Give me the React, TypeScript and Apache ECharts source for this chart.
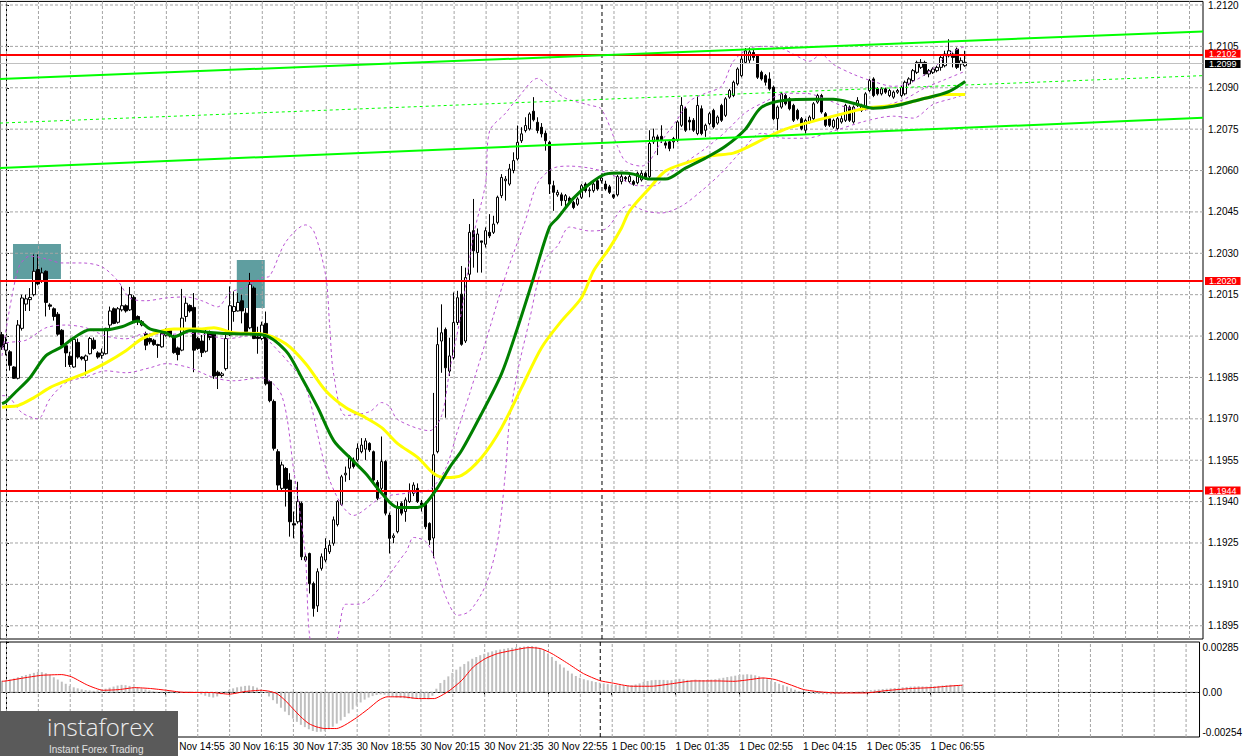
import React, { useEffect, useRef } from "react";
import * as echarts from "echarts";

// ---------- DATA ----------
// OHLC candles [open, close, low, high], 5-minute bars from 30 Nov 11:30
const candles: number[][] = [
  [1.20005, 1.19960, 1.19950, 1.20015],
  [1.19949, 1.19973, 1.19930, 1.19997], [1.19943, 1.19894, 1.19875, 1.19949], [1.19888, 1.19847, 1.19845, 1.19891],
  [1.19847, 1.20040, 1.19843, 1.20058], [1.20028, 1.20138, 1.20020, 1.20150], [1.20116, 1.20135, 1.20091, 1.20150],
  [1.20132, 1.20140, 1.20091, 1.20174], [1.20150, 1.20235, 1.20144, 1.20296], [1.20241, 1.20189, 1.20184, 1.20296],
  [1.20199, 1.20229, 1.20193, 1.20248], [1.20235, 1.20122, 1.20071, 1.20238], [1.20113, 1.20108, 1.20095, 1.20119],
  [1.20099, 1.20071, 1.20056, 1.20104], [1.20079, 1.20007, 1.20001, 1.20087], [1.20021, 1.19967, 1.19961, 1.20025],
  [1.19965, 1.19939, 1.19888, 1.19973], [1.19927, 1.19897, 1.19888, 1.19943], [1.19888, 1.19988, 1.19885, 1.19991],
  [1.19977, 1.19924, 1.19918, 1.19991], [1.19924, 1.19918, 1.19912, 1.19927], [1.19912, 1.19928, 1.19857, 1.19933],
  [1.19936, 1.19991, 1.19933, 1.19997], [1.19985, 1.19955, 1.19950, 1.19995], [1.19939, 1.19924, 1.19918, 1.19945],
  [1.19930, 1.19939, 1.19918, 1.19955], [1.19936, 1.20028, 1.19933, 1.20030], [1.20040, 1.20091, 1.20028, 1.20107],
  [1.20099, 1.20046, 1.20043, 1.20104], [1.20050, 1.20099, 1.20045, 1.20105], [1.20095, 1.20110, 1.20089, 1.20180],
  [1.20110, 1.20091, 1.20085, 1.20115], [1.20095, 1.20150, 1.20091, 1.20178], [1.20140, 1.20056, 1.20052, 1.20148],
  [1.20071, 1.20052, 1.20040, 1.20075], [1.20040, 1.20052, 1.20035, 1.20058], [1.20008, 1.19967, 1.19949, 1.20016],
  [1.19991, 1.19979, 1.19970, 1.19995], [1.19985, 1.19969, 1.19965, 1.19990], [1.19969, 1.19966, 1.19921, 1.19972],
  [1.19961, 1.20010, 1.19958, 1.20016], [1.20003, 1.20022, 1.19998, 1.20028], [1.20020, 1.20000, 1.19995, 1.20025],
  [1.20000, 1.19940, 1.19936, 1.20005], [1.19957, 1.19933, 1.19912, 1.19962], [1.19949, 1.20065, 1.19945, 1.20171],
  [1.20071, 1.20119, 1.20052, 1.20140], [1.20111, 1.20091, 1.20085, 1.20115], [1.20104, 1.19949, 1.19869, 1.20156],
  [1.19991, 1.19955, 1.19950, 1.19997], [1.19982, 1.19940, 1.19924, 1.20004], [1.19945, 1.20016, 1.19940, 1.20022],
  [1.20010, 1.19995, 1.19985, 1.20020], [1.20007, 1.19855, 1.19845, 1.20010], [1.19869, 1.19857, 1.19808, 1.19875],
  [1.19857, 1.19863, 1.19850, 1.19870], [1.19882, 1.19991, 1.19875, 1.20010], [1.20004, 1.20110, 1.20000, 1.20180],
  [1.20089, 1.20107, 1.20052, 1.20162], [1.20091, 1.20122, 1.20089, 1.20156], [1.20128, 1.20091, 1.20046, 1.20150],
  [1.20083, 1.20016, 1.20010, 1.20101], [1.20030, 1.20187, 1.20025, 1.20229], [1.20174, 1.19991, 1.19989, 1.20180],
  [1.19997, 1.19991, 1.19936, 1.20034], [1.19991, 1.20040, 1.19985, 1.20052], [1.20046, 1.19827, 1.19821, 1.20089],
  [1.19835, 1.19766, 1.19760, 1.19840], [1.19763, 1.19593, 1.19585, 1.19770], [1.19581, 1.19460, 1.19442, 1.19590],
  [1.19448, 1.19533, 1.19442, 1.19545], [1.19520, 1.19448, 1.19382, 1.19525], [1.19478, 1.19327, 1.19273, 1.19503],
  [1.19320, 1.19315, 1.19267, 1.19364], [1.19327, 1.19400, 1.19320, 1.19472], [1.19394, 1.19200, 1.19188, 1.19400],
  [1.19188, 1.19200, 1.19182, 1.19210], [1.19212, 1.19103, 1.19067, 1.19215], [1.19103, 1.19013, 1.18983, 1.19110],
  [1.19022, 1.19146, 1.19000, 1.19158], [1.19158, 1.19200, 1.19150, 1.19212], [1.19188, 1.19230, 1.19180, 1.19267],
  [1.19218, 1.19242, 1.19210, 1.19260], [1.19249, 1.19334, 1.19240, 1.19346], [1.19317, 1.19400, 1.19310, 1.19405],
  [1.19390, 1.19490, 1.19385, 1.19497], [1.19497, 1.19503, 1.19472, 1.19527], [1.19521, 1.19563, 1.19478, 1.19569],
  [1.19551, 1.19527, 1.19520, 1.19560], [1.19551, 1.19593, 1.19545, 1.19611], [1.19581, 1.19605, 1.19575, 1.19630],
  [1.19590, 1.19620, 1.19551, 1.19630], [1.19611, 1.19587, 1.19580, 1.19615], [1.19581, 1.19478, 1.19470, 1.19585],
  [1.19470, 1.19412, 1.19405, 1.19478], [1.19448, 1.19545, 1.19440, 1.19636], [1.19545, 1.19358, 1.19350, 1.19550],
  [1.19351, 1.19267, 1.19212, 1.19360], [1.19270, 1.19276, 1.19249, 1.19285], [1.19291, 1.19376, 1.19285, 1.19400],
  [1.19394, 1.19358, 1.19350, 1.19400], [1.19364, 1.19406, 1.19327, 1.19415], [1.19400, 1.19436, 1.19395, 1.19466],
  [1.19430, 1.19460, 1.19420, 1.19470], [1.19448, 1.19400, 1.19395, 1.19466], [1.19395, 1.19388, 1.19364, 1.19406],
  [1.19394, 1.19309, 1.19300, 1.19400], [1.19321, 1.19261, 1.19243, 1.19325], [1.19268, 1.19570, 1.19195, 1.19794],
  [1.19581, 1.19969, 1.19575, 1.20031], [1.19982, 1.20012, 1.19867, 1.20115], [1.20024, 1.19885, 1.19704, 1.20031],
  [1.19873, 1.19928, 1.19855, 1.19994], [1.19922, 1.20049, 1.19915, 1.20158], [1.20049, 1.20139, 1.20040, 1.20164],
  [1.20152, 1.19970, 1.19965, 1.20254], [1.19982, 1.20212, 1.19975, 1.20248], [1.20224, 1.20376, 1.20200, 1.20406],
  [1.20382, 1.20309, 1.20248, 1.20497], [1.20303, 1.20370, 1.20230, 1.20390], [1.20345, 1.20340, 1.20230, 1.20345],
  [1.20333, 1.20382, 1.20321, 1.20394], [1.20376, 1.20363, 1.20355, 1.20442], [1.20376, 1.20406, 1.20370, 1.20436],
  [1.20412, 1.20503, 1.20405, 1.20509], [1.20509, 1.20575, 1.20500, 1.20587], [1.20563, 1.20569, 1.20491, 1.20580],
  [1.20551, 1.20606, 1.20545, 1.20624], [1.20600, 1.20636, 1.20590, 1.20666], [1.20642, 1.20702, 1.20636, 1.20763],
  [1.20708, 1.20733, 1.20700, 1.20757], [1.20745, 1.20763, 1.20738, 1.20793], [1.20751, 1.20805, 1.20745, 1.20811],
  [1.20815, 1.20784, 1.20778, 1.20866], [1.20775, 1.20745, 1.20735, 1.20793], [1.20757, 1.20733, 1.20720, 1.20772],
  [1.20735, 1.20708, 1.20672, 1.20745], [1.20702, 1.20551, 1.20515, 1.20708], [1.20545, 1.20521, 1.20454, 1.20563],
  [1.20512, 1.20521, 1.20505, 1.20530], [1.20512, 1.20491, 1.20472, 1.20520], [1.20491, 1.20509, 1.20466, 1.20515],
  [1.20500, 1.20488, 1.20478, 1.20506], [1.20484, 1.20466, 1.20460, 1.20490], [1.20478, 1.20497, 1.20472, 1.20503],
  [1.20503, 1.20545, 1.20497, 1.20551], [1.20551, 1.20527, 1.20520, 1.20557], [1.20527, 1.20530, 1.20503, 1.20539],
  [1.20527, 1.20551, 1.20520, 1.20563], [1.20563, 1.20533, 1.20527, 1.20575], [1.20563, 1.20573, 1.20555, 1.20585],
  [1.20551, 1.20533, 1.20527, 1.20563], [1.20541, 1.20521, 1.20515, 1.20548], [1.20512, 1.20503, 1.20497, 1.20515],
  [1.20512, 1.20578, 1.20506, 1.20584], [1.20560, 1.20578, 1.20550, 1.20590], [1.20575, 1.20570, 1.20560, 1.20580],
  [1.20560, 1.20578, 1.20555, 1.20585], [1.20560, 1.20550, 1.20545, 1.20566], [1.20556, 1.20590, 1.20550, 1.20596],
  [1.20566, 1.20590, 1.20560, 1.20600], [1.20590, 1.20572, 1.20566, 1.20596], [1.20578, 1.20698, 1.20572, 1.20746],
  [1.20704, 1.20722, 1.20696, 1.20752], [1.20722, 1.20710, 1.20656, 1.20730], [1.20724, 1.20710, 1.20700, 1.20764],
  [1.20700, 1.20692, 1.20680, 1.20710], [1.20704, 1.20680, 1.20670, 1.20710], [1.20704, 1.20716, 1.20680, 1.20722],
  [1.20710, 1.20776, 1.20704, 1.20782], [1.20764, 1.20836, 1.20758, 1.20866], [1.20824, 1.20746, 1.20740, 1.20830],
  [1.20782, 1.20776, 1.20746, 1.20795], [1.20782, 1.20746, 1.20740, 1.20790], [1.20734, 1.20836, 1.20728, 1.20872],
  [1.20824, 1.20734, 1.20728, 1.20836], [1.20746, 1.20764, 1.20722, 1.20770], [1.20770, 1.20806, 1.20764, 1.20812],
  [1.20818, 1.20758, 1.20752, 1.20824], [1.20772, 1.20794, 1.20766, 1.20800], [1.20836, 1.20782, 1.20776, 1.20842],
  [1.20800, 1.20860, 1.20794, 1.20866], [1.20866, 1.20890, 1.20860, 1.20896], [1.20872, 1.20920, 1.20866, 1.20926],
  [1.20914, 1.20968, 1.20908, 1.20974], [1.20944, 1.21004, 1.20938, 1.21022], [1.20992, 1.21034, 1.20986, 1.21044],
  [1.21000, 1.21030, 1.20990, 1.21046], [1.21028, 1.21010, 1.20998, 1.21040], [1.21016, 1.20938, 1.20932, 1.21022],
  [1.20956, 1.20932, 1.20926, 1.20962], [1.20944, 1.20920, 1.20908, 1.20950], [1.20932, 1.20896, 1.20890, 1.20956],
  [1.20902, 1.20788, 1.20782, 1.20908], [1.20788, 1.20830, 1.20746, 1.20836], [1.20830, 1.20878, 1.20824, 1.20884],
  [1.20872, 1.20842, 1.20836, 1.20878], [1.20860, 1.20824, 1.20818, 1.20866], [1.20836, 1.20782, 1.20776, 1.20842],
  [1.20818, 1.20788, 1.20782, 1.20824], [1.20788, 1.20752, 1.20746, 1.20794], [1.20746, 1.20782, 1.20734, 1.20788],
  [1.20776, 1.20794, 1.20770, 1.20800], [1.20788, 1.20842, 1.20782, 1.20848], [1.20848, 1.20872, 1.20842, 1.20878],
  [1.20872, 1.20812, 1.20806, 1.20878], [1.20806, 1.20764, 1.20758, 1.20812], [1.20788, 1.20764, 1.20758, 1.20794],
  [1.20758, 1.20782, 1.20752, 1.20788], [1.20752, 1.20788, 1.20746, 1.20794], [1.20776, 1.20788, 1.20770, 1.20800],
  [1.20782, 1.20836, 1.20776, 1.20842], [1.20830, 1.20782, 1.20776, 1.20836], [1.20776, 1.20830, 1.20770, 1.20836],
  [1.20836, 1.20854, 1.20830, 1.20866], [1.20818, 1.20836, 1.20812, 1.20842], [1.20824, 1.20878, 1.20818, 1.20884],
  [1.20890, 1.20926, 1.20884, 1.20932], [1.20932, 1.20872, 1.20866, 1.20938], [1.20896, 1.20878, 1.20872, 1.20902],
  [1.20878, 1.20896, 1.20872, 1.20902], [1.20896, 1.20884, 1.20878, 1.20900], [1.20872, 1.20890, 1.20866, 1.20896],
  [1.20866, 1.20884, 1.20860, 1.20890], [1.20884, 1.20890, 1.20878, 1.20896], [1.20872, 1.20902, 1.20866, 1.20908],
  [1.20878, 1.20920, 1.20872, 1.20926], [1.20914, 1.20932, 1.20908, 1.20938], [1.20926, 1.20962, 1.20920, 1.20968],
  [1.20956, 1.20992, 1.20950, 1.20998], [1.20974, 1.20992, 1.20968, 1.21004], [1.20992, 1.20950, 1.20944, 1.20998],
  [1.20950, 1.20962, 1.20938, 1.20968], [1.20956, 1.20968, 1.20950, 1.20974], [1.20962, 1.20974, 1.20956, 1.20980],
  [1.20974, 1.21010, 1.20962, 1.21016], [1.20980, 1.21022, 1.20974, 1.21034], [1.21016, 1.21034, 1.21010, 1.21076],
  [1.21022, 1.21010, 1.20974, 1.21028], [1.21040, 1.20974, 1.20968, 1.21046], [1.20986, 1.20998, 1.20962, 1.21010],
  [1.20980, 1.20992, 1.20976, 1.21034],
];

// MACD main (histogram), one value per candle
const macdHist: number[] = [
  0.00065,
  0.00068, 0.00072, 0.00078, 0.00085, 0.00092, 0.00098, 0.00104, 0.00110, 0.00115, 0.00114,
  0.00108, 0.00098, 0.00085, 0.00072, 0.00060, 0.00048, 0.00036, 0.00028, 0.00022, 0.00016,
  0.00012, 0.00010, 0.00008, 0.00010, 0.00014, 0.00020, 0.00026, 0.00032, 0.00038, 0.00042,
  0.00040, 0.00036, 0.00030, 0.00026, 0.00022, 0.00016, 0.00010, 0.00006, 0.00002, 0.00000,
  0.00002, 0.00004, -0.00002, -0.00006, -0.00004, 0.00002, 0.00004, 0.00002, -0.00004, -0.00012,
  -0.00020, -0.00026, -0.00030, -0.00024, -0.00012, 0.00004, 0.00014, 0.00022, 0.00028, 0.00032,
  0.00036, 0.00038, 0.00034, 0.00026, 0.00016, -0.00004, -0.00024, -0.00045, -0.00065, -0.00088,
  -0.00110, -0.00130, -0.00150, -0.00168, -0.00185, -0.00198, -0.00210, -0.00220, -0.00225, -0.00224,
  -0.00220, -0.00210, -0.00196, -0.00178, -0.00160, -0.00140, -0.00120, -0.00098, -0.00076, -0.00058,
  -0.00042, -0.00030, -0.00022, -0.00016, -0.00012, -0.00014, -0.00020, -0.00026, -0.00030, -0.00032,
  -0.00034, -0.00036, -0.00038, -0.00036, -0.00034, -0.00036, -0.00040, -0.00020, 0.00020, 0.00052,
  0.00070, 0.00090, 0.00110, 0.00128, 0.00145, 0.00160, 0.00175, 0.00190, 0.00200, 0.00210,
  0.00218, 0.00226, 0.00232, 0.00238, 0.00242, 0.00246, 0.00250, 0.00252, 0.00255, 0.00257,
  0.00259, 0.00261, 0.00262, 0.00258, 0.00250, 0.00238, 0.00220, 0.00200, 0.00178, 0.00158,
  0.00140, 0.00122, 0.00106, 0.00092, 0.00082, 0.00074, 0.00068, 0.00063, 0.00058, 0.00054,
  0.00050, 0.00046, 0.00043, 0.00041, 0.00040, 0.00038, 0.00038, 0.00040, 0.00044, 0.00050,
  0.00058, 0.00064, 0.00068, 0.00070, 0.00070, 0.00070, 0.00068, 0.00068, 0.00072, 0.00076,
  0.00074, 0.00070, 0.00068, 0.00072, 0.00070, 0.00068, 0.00070, 0.00072, 0.00074, 0.00078,
  0.00082, 0.00086, 0.00090, 0.00094, 0.00098, 0.00100, 0.00102, 0.00100, 0.00096, 0.00090,
  0.00082, 0.00074, 0.00066, 0.00058, 0.00048, 0.00040, 0.00032, 0.00022, 0.00014, 0.00006,
  0.00000, -0.00004, -0.00008, -0.00010, -0.00010, -0.00012, -0.00012, -0.00012, -0.00010, -0.00010,
  -0.00008, -0.00006, -0.00004, 0.00000, 0.00004, 0.00008, 0.00010, 0.00012, 0.00014, 0.00016,
  0.00018, 0.00020, 0.00022, 0.00024, 0.00026, 0.00028, 0.00030, 0.00032, 0.00033, 0.00034,
  0.00033, 0.00032, 0.00032, 0.00034, 0.00036, 0.00038, 0.00040, 0.00042, 0.00041, 0.00040,
  0.00040,
];

// MACD signal line [bar position, value]
const macdSignal: number[][] = [
  [-1, 0.00062], [0, 0.00064], [5, 0.00083], [9, 0.00096], [14, 0.00100], [16.5, 0.00087], [20.5, 0.00040],
  [24.4, 0.00011], [28.4, 0.00015], [32.3, 0.00026], [36.3, 0.00021], [40.3, 0.00011], [44.2, 0.0],
  [52, -0.00002], [56, -0.00011], [60, 0.00004], [64, 0.00011], [66, 0.00006], [68, -0.00008],
  [70, -0.00045], [72, -0.00093], [74, -0.0014], [76, -0.00178], [78, -0.00197], [80, -0.00206],
  [83, -0.00206], [85, -0.00187], [88, -0.00144], [91, -0.00093], [93.6, -0.00045], [95.6, -0.00026],
  [99.5, -0.00026], [103.5, -0.00036], [107.5, -0.00036], [109.4, -0.00017], [111.4, 0.00011],
  [114.4, 0.00068], [117.3, 0.00144], [120.3, 0.00191], [123.3, 0.00219], [127.2, 0.00238],
  [131.2, 0.00253], [134.1, 0.00248], [137, 0.00219], [141, 0.00163], [144.9, 0.00106], [149, 0.00066],
  [152, 0.00053], [157, 0.00034], [162, 0.00034], [167.3, 0.00049], [172.4, 0.00064], [178.6, 0.00064],
  [182.7, 0.00062], [186.8, 0.00072], [189.9, 0.00081], [193, 0.00072], [197.1, 0.0004], [200.2, 0.00015],
  [204.3, 0.00002], [208.4, -0.00004], [215.6, -0.00004], [220.8, 0.00009], [227, 0.00021],
  [232.1, 0.00026], [236.2, 0.00034], [240, 0.0004],
];

// Moving averages [bar position, price]
const maGreen: number[][] = [
  [-1, 1.19755], [0, 1.19762], [2, 1.19791], [6, 1.19849], [10, 1.19929], [14, 1.19961], [17, 1.19994],
  [21, 1.20023], [25, 1.20023], [29, 1.20034], [33, 1.20055], [36, 1.20026], [40, 1.20012], [42, 1.19997],
  [46, 1.20019], [52, 1.20012], [57, 1.20008], [64, 1.20005], [70, 1.19947], [74, 1.19849], [78, 1.19741],
  [82, 1.19621], [86, 1.1956], [90, 1.19502], [94, 1.1943], [98, 1.19379], [103, 1.19379], [105, 1.19393],
  [108, 1.19451], [111, 1.19524], [114, 1.19585], [119, 1.19719], [124, 1.19864], [128, 1.2003],
  [132, 1.20211], [136, 1.20395], [138, 1.20428], [142, 1.205], [146, 1.20551], [150, 1.20587],
  [154, 1.20591], [157, 1.20587], [161, 1.20569], [165, 1.20569], [170, 1.20609], [175, 1.20645],
  [180, 1.20688], [185, 1.2075], [189, 1.20829], [195, 1.20855], [202, 1.20858], [207, 1.20858],
  [212, 1.20844], [217, 1.20826], [222, 1.20833], [227, 1.20851], [232, 1.20869], [236, 1.20887], [240, 1.20923],
];
const maYellow: number[][] = [
  [-1, 1.19742], [0, 1.19744], [3, 1.19748], [7, 1.19777], [11, 1.19813], [15, 1.19838], [20, 1.19867],
  [25, 1.19903], [30, 1.19947], [34, 1.1999], [39, 1.20019], [42, 1.20026], [49, 1.20026], [52, 1.2003],
  [57, 1.20012], [64, 1.20008], [70, 1.19972], [75, 1.199], [80, 1.19802], [85, 1.19741], [90, 1.19704],
  [94, 1.19668], [98, 1.1961], [103, 1.1956], [107, 1.19502], [110, 1.19487], [114, 1.19495],
  [119, 1.1956], [124, 1.19668], [129, 1.19813], [134, 1.19958], [139, 1.20055], [144, 1.20139],
  [147, 1.20236], [151, 1.20319], [154, 1.20392], [156, 1.20453], [161, 1.20536], [165, 1.20598],
  [170, 1.20627], [176, 1.20652], [182, 1.20663], [185, 1.20681], [190, 1.20717], [195, 1.2075],
  [200, 1.20771], [205, 1.2079], [210, 1.20808], [215, 1.20826], [220, 1.20833], [225, 1.20844],
  [230, 1.20862], [235, 1.20876], [240, 1.20876],
];

// Bollinger bands [bar position, price]
const bbUpper: number[][] = [
  [-1, 1.19928], [3, 1.20243], [6, 1.2029], [10, 1.2028], [14, 1.20265], [19, 1.20265], [24, 1.20251],
  [28, 1.202], [31, 1.20138], [35, 1.20128], [40, 1.20138], [45, 1.20142], [49, 1.20128], [53, 1.20106],
  [56, 1.20157], [60, 1.20178], [64, 1.20211], [66, 1.20218], [70, 1.20341], [75, 1.20403], [77, 1.20381],
  [80, 1.20218], [81, 1.20034], [82, 1.1986], [85, 1.19712], [91, 1.19726], [94, 1.19759], [96, 1.19744],
  [98, 1.19697], [106, 1.19657], [109, 1.19712], [111, 1.19874], [114, 1.20091], [117, 1.20366],
  [120, 1.20554], [121, 1.20743], [125, 1.20808], [128, 1.20862], [133, 1.20934], [136, 1.20902],
  [140, 1.20862], [146, 1.20837], [149, 1.20822], [153, 1.20688], [155, 1.20634], [159, 1.20616],
  [161, 1.20634], [164, 1.20706], [168, 1.20786], [171, 1.20851], [175, 1.2088], [179, 1.20905],
  [182, 1.20996], [186, 1.21043], [190, 1.2105], [194, 1.21043], [198, 1.21014], [201, 1.20996],
  [204, 1.21021], [207, 1.20985], [212, 1.20949], [217, 1.20923], [222, 1.20905], [227, 1.20923],
  [232, 1.2097], [236, 1.21025], [240, 1.2105],
];
const bbMiddle: number[][] = [
  [-1, 1.1996], [0, 1.19975], [5, 1.19985], [10, 1.2003], [15, 1.2004], [20, 1.2003], [25, 1.2],
  [30, 1.1999], [35, 1.2001], [40, 1.20005], [45, 1.2001], [50, 1.20005], [55, 1.1999], [60, 1.2],
  [64, 1.2001], [66, 1.19979], [71, 1.199], [75, 1.19817], [81, 1.19477], [87, 1.1935], [94, 1.19415],
  [100, 1.1943], [106, 1.19444], [110, 1.1952], [113, 1.19657], [116, 1.19791], [120, 1.19979],
  [125, 1.20218], [130, 1.20421], [133, 1.20554], [137, 1.20609], [141, 1.20616], [146, 1.20609],
  [150, 1.20594], [154, 1.20569], [158, 1.20545], [162, 1.20545], [166, 1.2059], [170, 1.2063],
  [175, 1.2068], [180, 1.2074], [185, 1.2081], [190, 1.2085], [195, 1.2088], [200, 1.2088],
  [205, 1.2086], [210, 1.2083], [215, 1.2082], [220, 1.20835], [225, 1.2086], [230, 1.209],
  [235, 1.2093], [240, 1.2096],
];
const bbLower: number[][] = [
  [-1, 1.19784], [0, 1.19784], [4, 1.19722], [8, 1.197], [11, 1.19773], [15, 1.19831], [20, 1.19852],
  [25, 1.19874], [30, 1.19867], [36, 1.19885], [40, 1.199], [46, 1.19885], [52, 1.19849], [57, 1.19838],
  [64, 1.19849], [69, 1.19784], [72, 1.19513], [74, 1.19314], [75, 1.19187], [76, 1.18909],
  [78, 1.18826], [81, 1.18826], [83, 1.18909], [85, 1.19028], [88, 1.19028], [100, 1.19216],
  [102, 1.1927], [105, 1.19256], [107, 1.19202], [110, 1.19057], [113, 1.18988], [116, 1.19003],
  [120, 1.19097], [123, 1.19256], [125, 1.19513], [126, 1.19697], [128, 1.19871], [131, 1.20059],
  [133, 1.20193], [135, 1.2028], [138, 1.20327], [141, 1.20395], [146, 1.20381], [150, 1.20388],
  [154, 1.2046], [156, 1.20475], [160, 1.20453], [164, 1.20446], [169, 1.20471], [174, 1.20526],
  [179, 1.20591], [184, 1.2067], [189, 1.20735], [195, 1.20717], [200, 1.20717], [207, 1.20743],
  [215, 1.20779], [222, 1.20797], [227, 1.2079], [232, 1.2084], [237, 1.20862], [240, 1.20876],
];

// Trend channel lines [bar position, price]
const trendTop: number[][] = [[-1.5, 1.20932], [299.5, 1.21104]];
const trendMidDashed: number[][] = [[-1.5, 1.20772], [299.5, 1.20944]];
const trendBottom: number[][] = [[-1.5, 1.20609], [299.5, 1.20791]];

// Marked zones (teal boxes) [[bar, price], [bar, price]]
const zones: number[][][] = [
  [[1.75, 1.20334], [13.75, 1.20207]],
  [[57.75, 1.20276], [64.75, 1.20102]],
];

// Levels
const redLevels: number[] = [1.2102, 1.202, 1.1944];
const bidLevel = 1.2099;
const priceTicks: number[] = [
  1.212, 1.2105, 1.209, 1.2075, 1.206, 1.2045, 1.203, 1.2015, 1.2,
  1.1985, 1.197, 1.1955, 1.194, 1.1925, 1.191, 1.1895,
];
const priceMin = 1.18902;
const priceMax = 1.21213;
const macdMin = -0.00254;
const macdMax = 0.00285;
const macdTicks: number[] = [-0.00254, 0, 0.00285];
// visible time labels (the earlier ones sit under the logo)
const tickLabels: string[] = [
  "30 Nov 14:55", "30 Nov 16:15", "30 Nov 17:35", "30 Nov 18:55",
  "30 Nov 20:15", "30 Nov 21:35", "30 Nov 22:55", "1 Dec 00:15", "1 Dec 01:35", "1 Dec 02:55",
  "1 Dec 04:15", "1 Dec 05:35", "1 Dec 06:55",
];
const daySeparatorBar = 149;
const totalSlots = 301;
const xFirst = -1.5;
const xLast = 299.5;

// time categories (5-minute bars starting 30 Nov 11:30)
const categories: string[] = [];
for (let k = 0; k < totalSlots; k++) {
  const t = 11 * 60 + 30 + 5 * k;
  const day = t >= 1440 ? "1 Dec" : "30 Nov";
  const m = t % 1440;
  categories.push(
    `${day} ${String(Math.floor(m / 60)).padStart(2, "0")}:${String(m % 60).padStart(2, "0")}`
  );
}
// vertical grid every 8 bars (nudged half a pixel so the 1px dashes stay crisp)
const vGrid: number[] = [];
for (let v = 0; v <= 296; v += 8) vGrid.push(v + 0.125);

const FONT = '"Liberation Sans", Arial, sans-serif';
const GRID_COLOR = "#a4a4a4";
const GRID_DASH = [3, 2];

function buildOption(): any {
  const isTick = (_i: number, value: string) => tickLabels.includes(value);
  const dashed = (data: number[][], z: number) => ({
    type: "line", xAxisIndex: 1, yAxisIndex: 0, data, symbol: "none", smooth: 0.3, silent: true, z,
    lineStyle: { color: "#BA55D3", width: 1, type: [3, 3] },
  });
  const solid = (data: number[][], color: string, width: number, z: number, smooth: number, type: any = "solid") => ({
    type: "line", xAxisIndex: 1, yAxisIndex: 0, data, symbol: "none", smooth, silent: true, z,
    lineStyle: { color, width, type },
  });
  // one 2-point line series per grid line
  const hLine = (v: number, xAxisIndex: number, yAxisIndex: number, color: string, type: any) => ({
    type: "line", xAxisIndex, yAxisIndex, data: [[xFirst, v], [xLast, v]], symbol: "none",
    silent: true, z: 1, lineStyle: { color, width: 1, type },
  });
  const vLine = (x: number, lo: number, hi: number, xAxisIndex: number, yAxisIndex: number, color: string, type: any) => ({
    type: "line", xAxisIndex, yAxisIndex, data: [[x, lo], [x, hi]], symbol: "none",
    silent: true, z: 1, lineStyle: { color, width: 1, type },
  });
  const levelLabel = (bg: string, dy: number) => ({
    show: true, position: "end", distance: 2, backgroundColor: bg, color: "#ffffff",
    fontSize: 9, fontFamily: FONT, padding: [0, 4, 0, 4], lineHeight: 8, offset: [0, dy],
  });

  return {
    animation: false,
    backgroundColor: "#ffffff",
    textStyle: { fontFamily: FONT },
    grid: [
      { left: -1, top: 0, width: 1204, height: 639, show: true, borderColor: "#000", borderWidth: 1, backgroundColor: "transparent" },
      { left: -1, top: 642, width: 1204, height: 95, show: true, borderColor: "#000", borderWidth: 1, backgroundColor: "transparent" },
    ],
    xAxis: [
      { type: "category", gridIndex: 0, data: categories, axisLine: { show: false }, axisTick: { show: false }, axisLabel: { show: false }, splitLine: { show: false } },
      { type: "value", gridIndex: 0, min: xFirst, max: xLast, show: false },
      {
        type: "category", gridIndex: 1, data: categories,
        axisLine: { show: true, lineStyle: { color: "#000" } },
        axisTick: { show: true, alignWithLabel: true, interval: isTick, length: 3, lineStyle: { color: "#000" } },
        axisLabel: { interval: isTick, align: "left", margin: 4, fontSize: 10, color: "#000", fontFamily: FONT },
        splitLine: { show: false },
      },
      { type: "value", gridIndex: 1, min: xFirst, max: xLast, show: false },
    ],
    yAxis: [
      {
        type: "value", gridIndex: 0, position: "right", min: priceMin, max: priceMax,
        axisLine: { show: true, lineStyle: { color: "#000" } },
        axisTick: { show: true, customValues: priceTicks, length: 3, lineStyle: { color: "#000" } },
        axisLabel: { customValues: priceTicks, formatter: (v: number) => v.toFixed(4), margin: 5, fontSize: 10, lineHeight: 7, color: "#000", fontFamily: FONT },
        splitLine: { show: false },
      },
      {
        type: "value", gridIndex: 1, position: "right", min: macdMin, max: macdMax,
        axisLine: { show: true, lineStyle: { color: "#000" } },
        axisTick: { show: true, customValues: macdTicks, length: 3, lineStyle: { color: "#000" } },
        axisLabel: {
          customValues: macdTicks, formatter: (v: number) => (v === 0 ? "0.00" : v.toFixed(5)),
          margin: 3, fontSize: 10, color: "#000", fontFamily: FONT,
          verticalAlignMinLabel: "bottom", verticalAlignMaxLabel: "top",
        },
        splitLine: { show: false },
      },
    ],
    series: [
      // grid lines (main panel)
      ...priceTicks.map((v) => hLine(v, 1, 0, GRID_COLOR, GRID_DASH)),
      ...vGrid.map((x) => vLine(x, priceMin, priceMax, 1, 0, GRID_COLOR, GRID_DASH)),
      vLine(daySeparatorBar + 0.125, priceMin, priceMax, 1, 0, "#000000", [4, 3]),
      {
        type: "line", xAxisIndex: 1, yAxisIndex: 0, data: [], z: 1, silent: true,
        markArea: {
          silent: true, itemStyle: { color: "#5f9ea0" },
          data: zones.map((zn) => [{ coord: zn[0] }, { coord: zn[1] }]),
        },
      },
      {
        type: "candlestick", xAxisIndex: 0, yAxisIndex: 0, data: candles, barWidth: 3, z: 3, silent: true,
        itemStyle: { color: "#ffffff", color0: "#000000", borderColor: "#000000", borderColor0: "#000000", borderWidth: 1 },
      },
      dashed(bbUpper, 4),
      dashed(bbMiddle, 4),
      dashed(bbLower, 4),
      solid(maYellow, "#ffff00", 3, 5, 0.3),
      solid(maGreen, "#008000", 3, 6, 0.3),
      solid(trendTop, "#00ff00", 2, 7, 0),
      solid(trendMidDashed, "#00ff00", 1, 7, 0, [3, 3]),
      solid(trendBottom, "#00ff00", 2, 7, 0),
      {
        type: "line", xAxisIndex: 1, yAxisIndex: 0, data: [], z: 8, silent: true,
        markLine: {
          silent: true, precision: 6, symbol: ["none", "none"],
          data: [
            ...redLevels.map((v, idx) => ({
              yAxis: v, lineStyle: { color: "#ff0000", width: 2, type: "solid" },
              label: { ...levelLabel("#ff0000", idx === 0 ? -1 : 0), formatter: v.toFixed(4) },
            })),
            {
              yAxis: bidLevel, lineStyle: { color: "#c0c0c0", width: 1, type: "solid" },
              label: { ...levelLabel("#000000", 1), formatter: bidLevel.toFixed(4) },
            },
          ],
        },
      },
      // MACD panel
      hLine(0, 3, 1, GRID_COLOR, GRID_DASH),
      ...vGrid.map((x) => vLine(x, macdMin, macdMax, 3, 1, GRID_COLOR, GRID_DASH)),
      vLine(daySeparatorBar + 0.125, macdMin, macdMax, 3, 1, "#000000", [4, 3]),
      {
        type: "bar", xAxisIndex: 2, yAxisIndex: 1, data: macdHist, barWidth: 2, z: 3, silent: true,
        itemStyle: { color: "#c0c0c0" },
      },
      {
        type: "line", xAxisIndex: 3, yAxisIndex: 1, data: macdSignal, symbol: "none", smooth: 0.2, z: 4, silent: true,
        lineStyle: { color: "#ff0000", width: 1 },
      },
    ],
    graphic: [
      { type: "rect", z: 100, shape: { x: 0, y: 711, width: 178, height: 45 }, style: { fill: "#5a5a5a" } },
      {
        type: "group", x: 24, y: 733, z: 101,
        children: [
          { type: "ring", shape: { cx: 0, cy: 0, r: 13.5, r0: 9 }, style: { fill: "#eeeeee" } },
          ...[0, 1, 2, 3, 4, 5, 6, 7].map((k) => ({
            type: "rect", rotation: (k * Math.PI) / 4,
            shape: { x: -3, y: -18, width: 6, height: 7 }, style: { fill: "#eeeeee" },
          })),
          { type: "circle", shape: { cx: 0, cy: -5, r: 3.2 }, style: { fill: "#eeeeee" } },
          {
            type: "polygon",
            shape: { points: [[-7, -5], [-4.5, -6], [0, 0], [4.5, -6], [7, -5], [2, 3], [2, 12], [-2, 12], [-2, 3]] },
            style: { fill: "#eeeeee" },
          },
        ],
      },
      {
        type: "text", x: 47, y: 726.7, z: 101,
        style: { text: "instaforex", font: '300 24px "Open Sans"', fill: "#eeeeee", verticalAlign: "middle" },
      },
      {
        type: "text", x: 49, y: 749, z: 101,
        style: { text: "Instant Forex Trading", font: '10px "Liberation Sans"', fill: "#e0e0e0", verticalAlign: "middle" },
      },
    ],
  };
}

export default function App() {
  const ref = useRef<HTMLDivElement>(null);
  useEffect(() => {
    if (!ref.current) return;
    const chart = echarts.init(ref.current, null, { renderer: "svg" });
    chart.setOption(buildOption());
    return () => chart.dispose();
  }, []);
  return (
    <div
      ref={ref}
      style={{ position: "fixed", left: 0, top: 0, width: 1245, height: 756, background: "#fff" }}
    />
  );
}
